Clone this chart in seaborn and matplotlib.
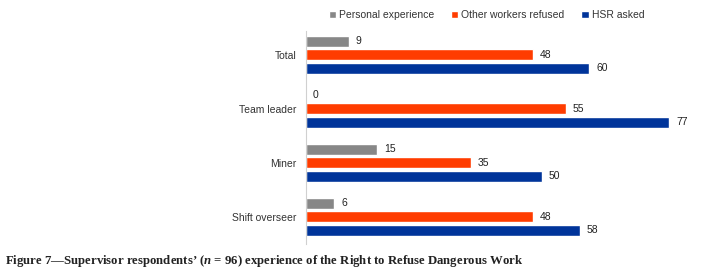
import matplotlib
matplotlib.use("Agg")
import matplotlib.pyplot as plt
import seaborn as sns
import pandas as pd

categories = ["Total", "Team leader", "Miner", "Shift overseer"]
series = ["Personal experience", "Other workers refused", "HSR asked"]
personal = [9, 0, 15, 6]
other = [48, 55, 35, 48]
hsr = [60, 77, 50, 58]
colors = ["#878787", "#FF3C00", "#00349A"]

rows = []
for s, vals in zip(series, [personal, other, hsr]):
    for c, v in zip(categories, vals):
        rows.append({"cat": c, "series": s, "value": v})
df = pd.DataFrame(rows)

sns.set_style("white")
plt.rcParams["font.family"] = ["Liberation Sans", "DejaVu Sans"]
plt.rcParams["mathtext.fontset"] = "custom"
plt.rcParams["mathtext.it"] = "Liberation Serif:italic:bold"
plt.rcParams["mathtext.rm"] = "Liberation Serif:bold"

fig = plt.figure(figsize=(7.07, 2.70), dpi=100)
ax = fig.add_axes([0.433, 0.097, 0.547, 0.79])
sns.barplot(data=df, y="cat", x="value", hue="series", order=categories,
            hue_order=series, palette=colors, saturation=1, orient="h",
            width=0.76, gap=0.2, ax=ax, legend=True)
ax.set_xlim(0, 82)
ax.set_ylim(3.5, -0.45)
for cont in ax.containers:
    ax.bar_label(cont, padding=5, fontsize=7.5, color="#222222")
ax.set_xlabel("")
ax.set_ylabel("")
ax.set_xticks([])
ax.tick_params(axis="y", length=0, labelsize=7.5, pad=7, labelcolor="#333333")
for s in ["top", "right", "bottom"]:
    ax.spines[s].set_visible(False)
ax.spines["left"].set_color("#D0D0D0")
ax.spines["left"].set_linewidth(0.8)

handles, labels = ax.get_legend_handles_labels()
ax.legend_.remove()
fig.legend(handles, labels, loc="center", bbox_to_anchor=(0.688, 0.945), ncol=3,
           frameon=False, fontsize=7.5, handlelength=0.7, handleheight=0.7,
           handletextpad=0.3, columnspacing=1.6, labelcolor="#333333")

t = "Figure 7\u2014Supervisor respondents\u2019 ($\\mathit{n}$ = 96) experience of the Right to Refuse Dangerous Work"
fig.text(0.007, 0.022, t, fontsize=9.2, family="Liberation Serif", weight="bold",
         color="#222222")

fig.savefig("out.png", dpi=100)
